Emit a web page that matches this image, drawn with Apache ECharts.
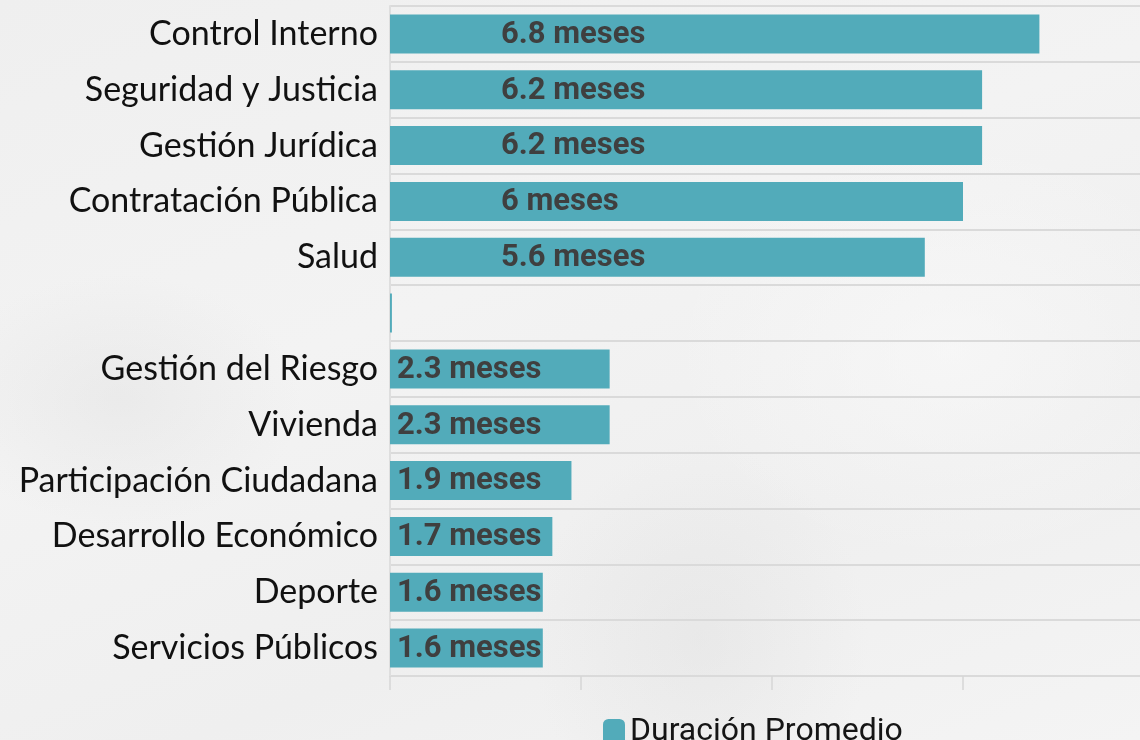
<!DOCTYPE html>
<html>
<head>
<meta charset="utf-8">
<script src="https://cdn.jsdelivr.net/npm/echarts@6/dist/echarts.min.js"></script>
<style>
html,body{margin:0;padding:0;}
body{width:1140px;height:740px;overflow:hidden;
background:
 radial-gradient(ellipse 260px 180px at 120px 400px, rgba(215,215,215,0.3), rgba(215,215,215,0) 70%),
 radial-gradient(ellipse 240px 280px at 700px 640px, rgba(215,215,215,0.3), rgba(215,215,215,0) 70%),
 radial-gradient(ellipse 400px 300px at 950px 350px, rgba(250,250,250,0.6), rgba(250,250,250,0) 70%),
 linear-gradient(160deg,#efefef 0%,#f3f3f3 40%,#efefef 70%,#f4f4f4 100%);}
#chart{width:1140px;height:740px;}
</style>
</head>
<body>
<div id="chart"></div>
<script>
const categories = ["Control Interno","Seguridad y Justicia","Gestión Jurídica","Contratación Pública","Salud","","Gestión del Riesgo","Vivienda","Participación Ciudadana","Desarrollo Económico","Deporte","Servicios Públicos"];
const values = [6.8, 6.2, 6.2, 6, 5.6, 0.02, 2.3, 2.3, 1.9, 1.7, 1.6, 1.6];
const seriesName = "Duración Promedio";

const chart = echarts.init(document.getElementById('chart'), null, {renderer:'canvas'});
const option = {
  backgroundColor: 'transparent',
  animation: false,
  grid: {left: 390, top: 6, bottom: 64, right: -14, containLabel: false, outerBoundsMode: 'none'},
  legend: {
    data: [seriesName], left: 598, top: 711,
    itemWidth: 22, itemHeight: 26, itemGap: 8,
    icon: 'roundRect',
    textStyle: {fontFamily: 'Roboto', fontSize: 32, color: '#151515'}
  },
  xAxis: {
    type: 'value', min: 0, max: 8, interval: 2,
    axisLine: {show: false},
    axisTick: {show: true, length: 14, lineStyle: {color: '#d6d6d6', width: 1.5}},
    axisLabel: {show: false},
    splitLine: {show: false}
  },
  yAxis: {
    type: 'category', inverse: true, data: categories,
    axisLine: {show: true, lineStyle: {color: '#dedede', width: 2}},
    axisTick: {show: false},
    splitLine: {show: true, lineStyle: {color: '#dadada', width: 2}},
    axisLabel: {fontFamily: 'Lato', fontSize: 34, color: '#111', margin: 12}
  },
  series: [{
    name: seriesName, type: 'bar', barWidth: 39,
    itemStyle: {color: '#52abba'},
    data: values.map(v => ({
      value: v,
      label: {
        show: v > 0.5,
        position: 'insideLeft',
        distance: v > 5 ? 111 : 7,
        offset: [0, 1],
        formatter: p => p.value + ' meses',
        fontFamily: 'Roboto', fontWeight: 'bold', fontSize: 31, color: '#3f3f3f'
      }
    }))
  }]
};
chart.setOption(option);
</script>
</body>
</html>
